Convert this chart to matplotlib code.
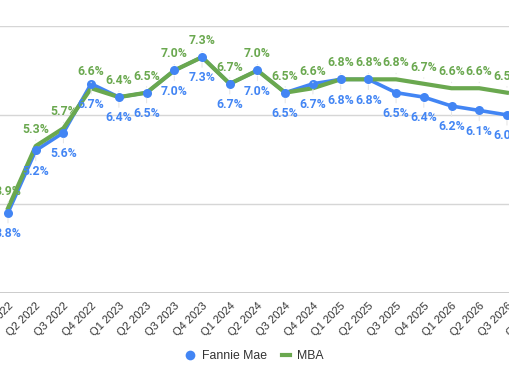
import matplotlib
matplotlib.use("Agg")
import matplotlib.pyplot as plt
from matplotlib.lines import Line2D

quarters = ["Q1 2022", "Q2 2022", "Q3 2022", "Q4 2022",
            "Q1 2023", "Q2 2023", "Q3 2023", "Q4 2023",
            "Q1 2024", "Q2 2024", "Q3 2024", "Q4 2024",
            "Q1 2025", "Q2 2025", "Q3 2025", "Q4 2025",
            "Q1 2026", "Q2 2026", "Q3 2026", "Q4 2026"]
fannie_mae = [3.8, 5.2, 5.6, 6.7, 6.4, 6.5, 7.0, 7.3, 6.7, 7.0,
              6.5, 6.7, 6.8, 6.8, 6.5, 6.4, 6.2, 6.1, 6.0]
mba = [3.9, 5.3, 5.7, 6.6, 6.4, 6.5, 7.0, 7.3, 6.7, 7.0,
       6.5, 6.6, 6.8, 6.8, 6.8, 6.7, 6.6, 6.6, 6.5]
y_ticks = [2, 4, 6, 8]

BLUE = "#4285F4"
GREEN = "#6AA84F"

W, H = 510, 382
fig = plt.figure(figsize=(W / 100, H / 100), dpi=100)
step = 27.72
left_px = 8 - step / 2
n = len(quarters)
ax = fig.add_axes([left_px / W, (H - 292.7) / H, n * step / W, (292.7 - 26) / H])
ax.set_xlim(-0.5, n - 0.5)
ax.set_ylim(2, 8)

for s in ax.spines.values():
    s.set_visible(False)
ax.set_yticks(y_ticks)
ax.tick_params(axis="y", length=0, labelleft=False)
for v in y_ticks[1:]:
    ax.axhline(v, color="#d6d6d6", lw=1, zorder=0)
ax.axhline(2, color="#c4c4c4", lw=1.2, zorder=1)

x_f = list(range(len(fannie_mae)))
x_m = list(range(len(mba)))
ax.plot(x_f, fannie_mae, color=BLUE, lw=2.6, zorder=2, solid_capstyle="round")
ax.plot(x_m, mba, color=GREEN, lw=3.0, zorder=3, solid_joinstyle="round")
ax.plot(x_f, fannie_mae, "o", color=BLUE, ms=6.5, zorder=4, mec="none")

ax.set_xticks(range(n))
ax.set_xticklabels(quarters, rotation=45, ha="right", rotation_mode="anchor",
                   fontsize=8, color="#333333", family="Liberation Sans")
ax.tick_params(axis="x", length=0, pad=6)

stem = dict(arrowstyle="-", color="#e6e6e6", lw=0.8, shrinkA=1, shrinkB=4)
lab = dict(ha="center", va="center", fontsize=8.8, fontweight="bold",
           family="Roboto", zorder=5, arrowprops=stem, textcoords="offset points")
for x, v in zip(x_m, mba):
    ax.annotate(f"{v:.1f}%", (x, v), xytext=(0, 12), color=GREEN, **lab)
for x, v in zip(x_f, fannie_mae):
    ax.annotate(f"{v:.1f}%", (x, v), xytext=(0, -15), color=BLUE, **lab)

handles = [Line2D([], [], marker="o", ls="none", color=BLUE, ms=7, mec="none"),
           Line2D([], [], color=GREEN, lw=3)]
fig.legend(handles, ["Fannie Mae", "MBA"], loc="center", bbox_to_anchor=(0.5, 1 - 356 / H),
           ncol=2, frameon=False, handlelength=0.7, handletextpad=0.6,
           columnspacing=1.2, prop={"family": "Liberation Sans", "size": 8.8},
           labelcolor="#333333")

fig.savefig("out.png", dpi=100)
